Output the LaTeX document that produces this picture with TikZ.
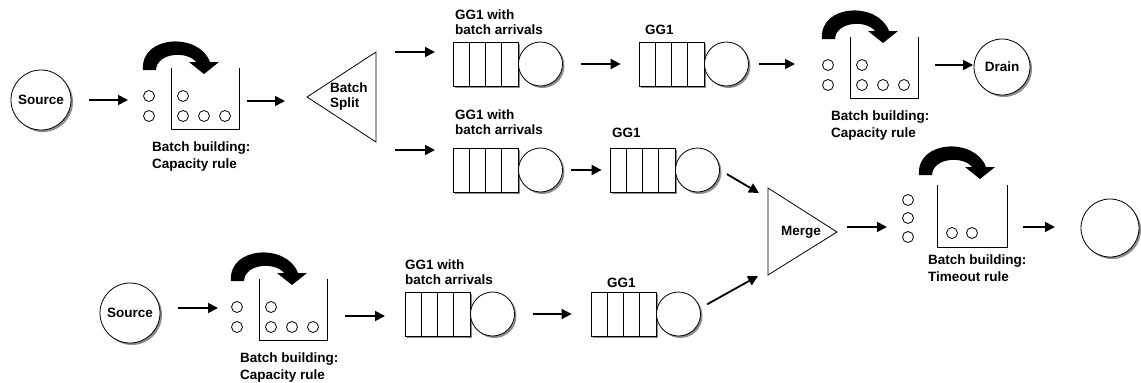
\documentclass[tikz,border=0pt]{standalone}
\usepackage{fontspec}
\setmainfont{Liberation Sans}
\usetikzlibrary{arrows.meta,shadows}
\tikzset{lbl/.style={font=\bfseries\fontsize{13.5}{15}\selectfont,
                     align=left,inner sep=0pt}}
\tikzset{arr/.style={line width=1.8pt,-{Triangle[length=10pt,width=10pt]}}}
\tikzset{shade/.style={drop shadow={shadow xshift=2pt,shadow yshift=-2pt,
                       fill=black!45,opacity=1}}}
\tikzset{station/.style={circle,draw,line width=0.8pt,fill=white,shade,
                         inner sep=0pt,lbl}}
\tikzset{buffer/.style={draw,line width=0.8pt,fill=white,shade,
                        minimum width=65pt,minimum height=44pt,inner sep=0pt}}
\tikzset{tok/.style={line width=0.8pt}}
\tikzset{queue/.pic={
    \node[buffer] (-buf) at (0,0) {};
    \foreach \x in {-16.25,0,16.25}
        \draw[line width=0.8pt] (\x,-22) -- (\x,22);
    \node[station,minimum size=44pt] (-srv) at (55,0) {};
}}
% thick curved arrow over a batch box (origin: top left corner of the box)
\tikzset{flip/.pic={
    \fill (-28,2) .. controls (-31,-33) and (28,-36) .. (39,-6) -- (48,-6)
        -- (33,6) -- (18,-6) -- (25,-6) .. controls (17,-17) and (-14,-16) .. (-15,2)
        -- cycle;
}}
\tikzset{capbatch/.pic={
    \pic at (22,-28) {flip};
    \foreach \y in {0,20}
        \draw[tok] (0,\y) circle[radius=5.5];
    \draw[line width=0.8pt] (22,-28) -- (22,33) -- (90,33) -- (90,-28);
    \foreach \x/\y in {34/0,34/20,55/20,76/20}
        \draw[tok] (\x,\y) circle[radius=5.5];
    \node[lbl,anchor=north west] (-lbl) at (3,46) {Batch building:\\[2pt]Capacity rule};
}}
\tikzset{timebatch/.pic={
    \pic at (39,-45) {flip};
    \foreach \y in {-18,0,19}
        \draw[tok] (0,\y) circle[radius=5.5];
    \draw[line width=0.8pt] (29,-33) -- (29,29) -- (99,29) -- (99,-33);
    \foreach \x in {44,64}
        \draw[tok] (\x,15) circle[radius=5.5];
    \node[lbl,anchor=north west] (-lbl) at (20,37) {Batch building:\\[2pt]Timeout rule};
}}

\begin{document}
\begin{tikzpicture}[x=1pt,y=-1pt]
    \useasboundingbox (0,0) rectangle (1141,383);

    % upper line
    \node[station,minimum size=60pt] (src1) at (41,100) {Source};
    \pic (bb1) at (149,96) {capbatch};
    \draw[line width=0.8pt] (307,97) -- (376,52) -- (376,142) -- cycle;
    \node[lbl,anchor=north west] (split) at (330,83) {Batch\\Split};
    \node[lbl,anchor=north west] (l1) at (455,10) {GG1 with\\batch arrivals};
    \pic (q1) at (485.5,64) {queue};
    \node[lbl,anchor=north west] (l2) at (645,25) {GG1};
    \pic (q2) at (671.5,64) {queue};
    \pic (bb2) at (828,65) {capbatch};
    \node[station,minimum size=56pt] (drain) at (1002,67) {Drain};

    % middle line
    \node[lbl,anchor=north west] (l3) at (455,110) {GG1 with\\batch arrivals};
    \pic (q3) at (485.5,170) {queue};
    \node[lbl,anchor=north west] (l4) at (612,128) {GG1};
    \pic (q4) at (642.5,170) {queue};
    \draw[line width=0.8pt] (768,188) -- (837,232) -- (768,275) -- cycle;
    \node[lbl] (merge) at (801,232) {Merge};
    \pic (bb3) at (908,218) {timebatch};
    \node[station,minimum size=58pt] (sink) at (1110,228) {};

    % lower line
    \node[station,minimum size=60pt] (src2) at (130,313) {Source};
    \pic (bb4) at (237,307) {capbatch};
    \node[lbl,anchor=north west] (l5) at (405,260) {GG1 with\\batch arrivals};
    \pic (q5) at (437.5,314) {queue};
    \node[lbl,anchor=north west] (l6) at (607,278) {GG1};
    \pic (q6) at (623.5,314) {queue};

    % free ends of the arrows
    \coordinate (a1s) at (89,100);   \coordinate (a1e) at (128,100);
    \coordinate (a2s) at (247,101);  \coordinate (a2e) at (285,101);
    \coordinate (a3s) at (395,52);   \coordinate (a3e) at (435,52);
    \coordinate (a4s) at (395,150);  \coordinate (a4e) at (435,150);
    \coordinate (a6e) at (795,64);
    \coordinate (a7s) at (935,65);   \coordinate (a7e) at (973,65);
    \coordinate (a9e) at (759,193);
    \coordinate (a10s) at (847,227); \coordinate (a10e) at (887,227);
    \coordinate (a11s) at (1023,227); \coordinate (a11e) at (1055,227);
    \coordinate (a12s) at (178,308); \coordinate (a12e) at (218,308);
    \coordinate (a13s) at (345,316); \coordinate (a13e) at (385,316);
    \coordinate (a15e) at (758,276);

    \draw[arr] (a1s) -- (a1e);
    \draw[arr] (a2s) -- (a2e);
    \draw[arr] (a3s) -- (a3e);
    \draw[arr] (a4s) -- (a4e);
    \draw[arr,shorten <=18pt,shorten >=18pt] (q1-srv) -- (q2-buf);
    \draw[arr,shorten <=10pt] (q2-srv.east) -- (a6e);
    \draw[arr] (a7s) -- (a7e);
    \draw[arr,shorten <=8pt,shorten >=8pt] (q3-srv.east) -- (q4-buf.west);
    \draw[arr,shorten <=8pt] (q4-srv.east) -- (a9e);
    \draw[arr] (a10s) -- (a10e);
    \draw[arr] (a11s) -- (a11e);
    \draw[arr] (a12s) -- (a12e);
    \draw[arr] (a13s) -- (a13e);
    \draw[arr,shorten <=18pt,shorten >=19pt] (q5-srv.east) -- (q6-buf.west);
    \draw[arr,shorten <=8pt] (q6-srv.15) -- (a15e);
\end{tikzpicture}
\end{document}
